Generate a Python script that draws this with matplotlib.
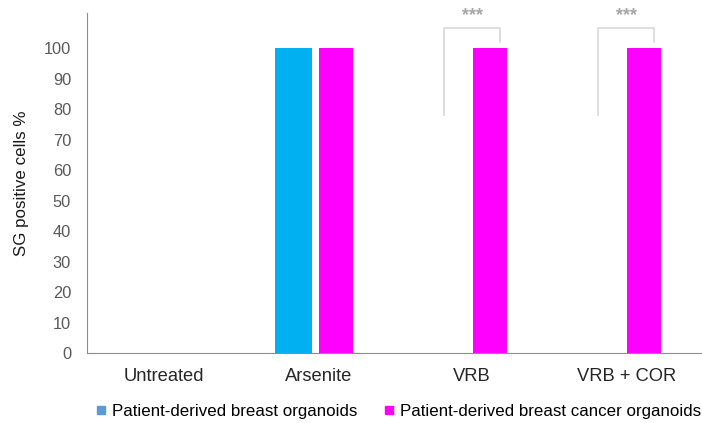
import matplotlib.pyplot as plt
from matplotlib.lines import Line2D

plt.rcParams['font.family'] = ['Liberation Sans', 'DejaVu Sans']

# Data
categories = ['Untreated', 'Arsenite', 'VRB', 'VRB + COR']
normal_organoids = [0, 100, 0, 0]
cancer_organoids = [0, 100, 100, 100]
y_ticks = [0, 10, 20, 30, 40, 50, 60, 70, 80, 90, 100]

fig = plt.figure(figsize=(7.02, 4.23), dpi=100)
ax = fig.add_axes([0.124, 0.1655, 0.878, 0.8035])

x = range(len(categories))
ax.bar([i - 0.16 for i in x], normal_organoids, width=0.24, color='#00B0F0')
ax.bar([i + 0.115 for i in x], cancer_organoids, width=0.225, color='#FF00FF')

ax.set_xlim(-0.5, 3.5)
ax.set_ylim(0, 111.5)
ax.set_yticks(y_ticks)
ax.set_xticks(list(x))
ax.set_xticklabels(categories, fontsize=13.2, color='#262626')
ax.tick_params(axis='y', length=0, labelsize=11.8, labelcolor='#595959', pad=11.5)
ax.tick_params(axis='x', length=0, pad=11)

for side in ['top', 'right']:
    ax.spines[side].set_visible(False)
ax.spines['left'].set_color('#8c8c8c')
ax.spines['bottom'].set_color('#8c8c8c')

ax.set_ylabel('SG positive cells %', fontsize=12.2, color='#1a1a1a', labelpad=11)

# significance brackets
for c in [2, 3]:
    ax.plot([c - 0.182, c - 0.182, c + 0.18, c + 0.18], [78, 106.6, 106.6, 102],
            color='#d9d9d9', lw=1.2, clip_on=False)
    ax.text(c, 107.8, '***', ha='center', va='bottom', fontsize=13,
            color='#a6a6a6', fontweight='bold')

handles = [Line2D([], [], ls='none', marker='s', markersize=5.5, color='#5B9BD5',
                  label='Patient-derived breast organoids'),
           Line2D([], [], ls='none', marker='s', markersize=5.5, color='#FF00FF',
                  label='Patient-derived breast cancer organoids')]
fig.legend(handles=handles, loc='center', bbox_to_anchor=(0.568, 0.028), ncol=2,
           frameon=False, fontsize=12.2, handlelength=0.5,
           handletextpad=0.4, columnspacing=1.6, borderpad=0, borderaxespad=0)

fig.savefig('out.png', dpi=100)
